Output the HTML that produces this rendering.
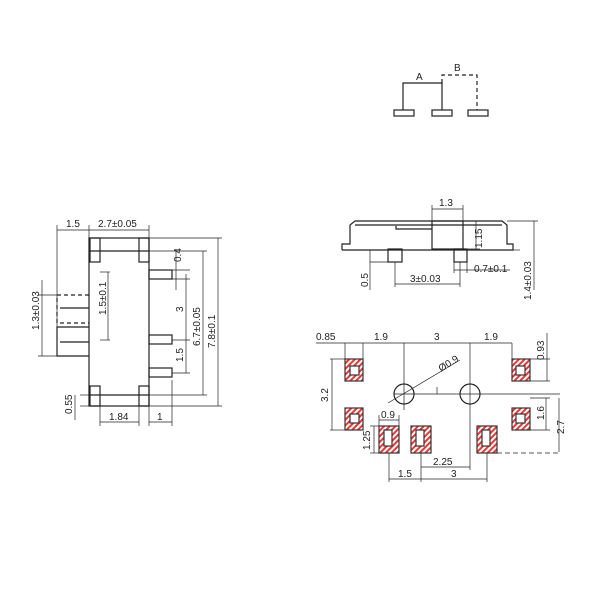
<!DOCTYPE html>
<html><head><meta charset="utf-8"><style>
html,body{margin:0;padding:0;background:#fff;}
svg{display:block}
text{font-family:"Liberation Sans",sans-serif;font-size:10px;fill:#222}
</style></head><body>
<svg width="600" height="600" viewBox="0 0 600 600" xmlns="http://www.w3.org/2000/svg">
<defs>
<pattern id="h" width="4" height="4" patternUnits="userSpaceOnUse" patternTransform="rotate(45)">
<rect width="4" height="4" fill="#fff"/><rect width="2" height="4" fill="#e33"/>
</pattern>
</defs>
<g fill="none" stroke="#222" stroke-width="1.2">
<polyline points="403,110 403,83 442,83 442,110"/>
<polyline points="442,83 442,75 477,75 477,110" stroke-dasharray="4,3"/>
<rect x="394" y="110" width="20" height="6"/>
<rect x="432" y="110" width="20" height="6"/>
<rect x="468" y="110" width="20" height="6"/>

<rect x="89" y="238" width="60" height="168"/>
<line x1="89" y1="251" x2="149" y2="251"/>
<line x1="89" y1="395" x2="149" y2="395"/>
<rect x="90" y="238" width="10" height="24"/>
<rect x="139" y="238" width="10" height="24"/>
<rect x="90" y="386" width="10" height="20"/>
<rect x="139" y="386" width="10" height="20"/>
<rect x="149" y="270" width="23" height="9"/>
<rect x="149" y="335" width="23" height="9"/>
<rect x="149" y="368" width="23" height="9"/>
<polyline points="89,295 57,295 57,323 89,323" stroke-dasharray="4,3"/>
<polyline points="89,327 57,327 57,356 89,356"/>
<line x1="60" y1="308" x2="89" y2="308"/>
<line x1="60" y1="342" x2="89" y2="342"/>
<g stroke-width="0.7">
<line x1="57" y1="225" x2="57" y2="356"/>
<line x1="89" y1="225" x2="89" y2="238"/>
<line x1="149" y1="225" x2="149" y2="238"/>
<line x1="57" y1="230" x2="149" y2="230"/>
<line x1="38" y1="295" x2="57" y2="295"/><line x1="38" y1="356" x2="57" y2="356"/><line x1="42" y1="280" x2="42" y2="356"/>
<line x1="108" y1="272" x2="108" y2="340"/><line x1="100" y1="272" x2="110" y2="272"/><line x1="100" y1="340" x2="110" y2="340"/>
<line x1="149" y1="238" x2="222" y2="238"/><line x1="149" y1="406" x2="222" y2="406"/><line x1="218" y1="238" x2="218" y2="406"/>
<line x1="149" y1="251" x2="207" y2="251"/><line x1="149" y1="395" x2="207" y2="395"/><line x1="203" y1="251" x2="203" y2="395"/>
<line x1="172" y1="270" x2="190" y2="270"/><line x1="172" y1="279" x2="190" y2="279"/><line x1="176" y1="250" x2="176" y2="290"/>
<line x1="172" y1="340" x2="190" y2="340"/><line x1="172" y1="373" x2="190" y2="373"/><line x1="186" y1="274" x2="186" y2="373"/>
<line x1="80" y1="395" x2="89" y2="395"/><line x1="80" y1="406" x2="89" y2="406"/><line x1="75" y1="395" x2="75" y2="420"/>
<line x1="100" y1="406" x2="100" y2="426"/><line x1="139" y1="406" x2="139" y2="426"/><line x1="100" y1="422" x2="139" y2="422"/>
<line x1="149" y1="406" x2="149" y2="426"/><line x1="172" y1="380" x2="172" y2="426"/><line x1="149" y1="422" x2="172" y2="422"/>
</g>

<polyline points="342,250 342,244 350,244 350,225 355,221 502,221 507,225 507,244 513,244 513,250 342,250"/>
<line x1="355" y1="225" x2="502" y2="225"/>
<polyline points="396,226 396,229 432,229"/>
<rect x="432" y="221" width="31" height="28"/>
<rect x="388" y="249" width="14" height="13"/>
<rect x="454" y="249" width="13" height="13"/>
<g stroke-width="0.7">
<line x1="432" y1="205" x2="432" y2="221"/><line x1="463" y1="205" x2="463" y2="221"/><line x1="432" y1="209" x2="463" y2="209"/>
<line x1="463" y1="221" x2="480" y2="221"/><line x1="463" y1="249" x2="480" y2="249"/><line x1="476" y1="221" x2="476" y2="249"/>
<line x1="507" y1="221" x2="538" y2="221"/><line x1="513" y1="250" x2="520" y2="250"/><line x1="534" y1="221" x2="534" y2="290"/>
<line x1="370" y1="262" x2="388" y2="262"/><line x1="370" y1="250" x2="370" y2="290"/>
<line x1="395" y1="262" x2="395" y2="287"/><line x1="460" y1="262" x2="460" y2="287"/><line x1="395" y1="284" x2="460" y2="284"/>
<line x1="454" y1="262" x2="454" y2="273"/><line x1="467" y1="262" x2="467" y2="273"/><line x1="454" y1="270" x2="510" y2="270"/>
</g>

<g stroke="#333">
<rect x="345" y="359" width="18" height="22" fill="url(#h)"/><rect x="350" y="366" width="9" height="9" fill="#fff"/>
<rect x="512" y="359" width="18" height="22" fill="url(#h)"/><rect x="516" y="366" width="9" height="9" fill="#fff"/>
<rect x="345" y="408" width="18" height="22" fill="url(#h)"/><rect x="350" y="414" width="9" height="9" fill="#fff"/>
<rect x="512" y="408" width="18" height="22" fill="url(#h)"/><rect x="516" y="414" width="9" height="9" fill="#fff"/>
<rect x="379" y="426" width="20" height="27" fill="url(#h)"/><rect x="384" y="430" width="8" height="16" fill="#fff"/>
<rect x="411" y="426" width="20" height="27" fill="url(#h)"/><rect x="416" y="430" width="8" height="16" fill="#fff"/>
<rect x="477" y="426" width="20" height="27" fill="url(#h)"/><rect x="482" y="430" width="8" height="16" fill="#fff"/>
</g>
<circle cx="404" cy="394" r="10"/><circle cx="470" cy="394" r="10"/>
<g stroke-width="0.7">
<line x1="404" y1="343" x2="404" y2="410"/><line x1="470" y1="343" x2="470" y2="470"/>
<line x1="394" y1="394" x2="560" y2="394"/><line x1="437" y1="387" x2="437" y2="394"/>
<line x1="388" y1="403" x2="460" y2="360"/>
<line x1="316" y1="343" x2="512" y2="343"/>
<line x1="345" y1="343" x2="345" y2="359"/><line x1="363" y1="343" x2="363" y2="359"/><line x1="512" y1="343" x2="512" y2="359"/>
<line x1="530" y1="359" x2="550" y2="359"/><line x1="530" y1="381" x2="550" y2="381"/><line x1="547" y1="333" x2="547" y2="381"/>
<line x1="330" y1="359" x2="345" y2="359"/><line x1="330" y1="430" x2="345" y2="430"/><line x1="332" y1="359" x2="332" y2="430"/>
<line x1="530" y1="398" x2="550" y2="398"/><line x1="530" y1="430" x2="550" y2="430"/><line x1="546" y1="398" x2="546" y2="430"/>
<line x1="559" y1="398" x2="559" y2="452"/><line x1="497" y1="453" x2="560" y2="453" stroke-dasharray="5,3"/>
<line x1="379" y1="420" x2="399" y2="420"/><line x1="379" y1="415" x2="379" y2="426"/><line x1="399" y1="415" x2="399" y2="426"/>
<line x1="370" y1="426" x2="379" y2="426"/><line x1="370" y1="453" x2="379" y2="453"/><line x1="374" y1="426" x2="374" y2="453"/>
<line x1="389" y1="453" x2="389" y2="482"/><line x1="421" y1="453" x2="421" y2="482"/><line x1="487" y1="453" x2="487" y2="482"/>
<line x1="389" y1="479" x2="487" y2="479"/><line x1="421" y1="467" x2="470" y2="467"/>
</g>
</g>
<text x="416" y="80" font-family="Liberation Serif">A</text>
<text x="454" y="71" font-family="Liberation Serif">B</text>
<text x="66" y="227" font-size="9">1.5</text>
<text x="98" y="227" font-size="9">2.7±0.05</text>
<text transform="translate(39,330) rotate(-90)" font-size="9">1.3±0.03</text>
<text transform="translate(106,315) rotate(-90)" font-size="9">1.5±0.1</text>
<text transform="translate(181,262) rotate(-90)" font-size="9">0.4</text>
<text transform="translate(183,312) rotate(-90)" font-size="9">3</text>
<text transform="translate(183,362) rotate(-90)" font-size="9">1.5</text>
<text transform="translate(200,346) rotate(-90)" font-size="9">6.7±0.05</text>
<text transform="translate(215,348) rotate(-90)" font-size="9">7.8±0.1</text>
<text transform="translate(72,414) rotate(-90)" font-size="9">0.55</text>
<text x="109" y="420" font-size="9">1.84</text>
<text x="157" y="420" font-size="9">1</text>
<text x="439" y="206" font-size="9">1.3</text>
<text transform="translate(482,248) rotate(-90)" font-size="9">1.15</text>
<text transform="translate(368,287) rotate(-90)" font-size="9">0.5</text>
<text x="410" y="282" font-size="9">3±0.03</text>
<text x="474" y="272" font-size="9">0.7±0.1</text>
<text transform="translate(531,300) rotate(-90)" font-size="9">1.4±0.03</text>
<text x="316" y="340" font-size="9">0.85</text>
<text x="374" y="340" font-size="9">1.9</text>
<text x="434" y="340" font-size="9">3</text>
<text x="484" y="340" font-size="9">1.9</text>
<text transform="translate(544,360) rotate(-90)" font-size="9">0.93</text>
<text transform="translate(441,372) rotate(-32)" font-size="9">Ø0.9</text>
<text transform="translate(328,402) rotate(-90)" font-size="9">3.2</text>
<text transform="translate(544,420) rotate(-90)" font-size="9">1.6</text>
<text transform="translate(564,434) rotate(-90)" font-size="9">2.7</text>
<text x="381" y="418" font-size="9">0.9</text>
<text transform="translate(370,450) rotate(-90)" font-size="9">1.25</text>
<text x="433" y="465" font-size="9">2.25</text>
<text x="398" y="477" font-size="9">1.5</text>
<text x="451" y="477" font-size="9">3</text>
</svg>
</body></html>
